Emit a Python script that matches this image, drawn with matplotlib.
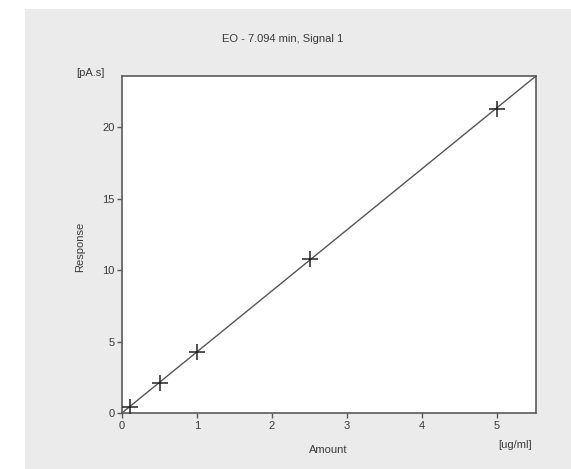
import matplotlib.pyplot as plt
import numpy as np
from matplotlib.patches import Rectangle

# calibration points
amount = np.array([0.1, 0.5, 1.0, 2.5, 5.0])      # ug/ml
response = np.array([0.4, 2.1, 4.3, 10.8, 21.3])  # pA.s
x_ticks = [0, 1, 2, 3, 4, 5]
y_ticks = [0, 5, 10, 15, 20]

plt.rcParams["font.family"] = ["Liberation Sans", "DejaVu Sans"]
txt = "#3a3a3a"
edge = "#5a5a5a"

W, H = 571, 469
fig = plt.figure(figsize=(W / 100, H / 100), dpi=100)
fig.patch.set_facecolor("white")
# grey panel behind the plot
fig.patches.append(Rectangle((25 / W, 0), 1, (H - 9) / H, transform=fig.transFigure,
                             facecolor="#ebebeb", edgecolor="none", zorder=-5))

ax = fig.add_axes([122 / W, (H - 413) / H, (536 - 122) / W, (413 - 76) / H])
ax.set_zorder(1)
ax.set_facecolor("white")

xmax = 5.52
slope, icpt = np.polyfit(amount, response, 1)
xs = np.array([0, xmax])
ax.plot(xs, slope * xs + icpt, color="#555555", lw=1.0, zorder=2)
ax.plot(amount, response, linestyle="none", marker="+", ms=11, mew=1.1, color="#222222", zorder=3)

ax.set_xlim(0, xmax)
ax.set_ylim(0, slope * xmax + icpt)
ax.set_xticks(x_ticks)
ax.set_yticks(y_ticks)
ax.tick_params(direction="out", length=3.5, width=1, color=edge, labelcolor=txt, labelsize=8, pad=2)
for s in ax.spines.values():
    s.set_color(edge)
    s.set_linewidth(1.2)

fig.text(283 / W, 1 - 39 / H, "EO - 7.094 min, Signal 1", ha="center", va="center", size=8, color=txt)
fig.text(90 / W, 1 - 73 / H, "[pA.s]", ha="center", va="center", size=8, color=txt)
fig.text(80 / W, 1 - 247 / H, "Response", ha="center", va="center", rotation=90, size=8, color=txt)
fig.text(328 / W, 1 - 450 / H, "Amount", ha="center", va="center", size=8, color=txt)
fig.text(515 / W, 1 - 445 / H, "[ug/ml]", ha="center", va="center", size=8, color=txt)

fig.savefig("out.png", dpi=100)
